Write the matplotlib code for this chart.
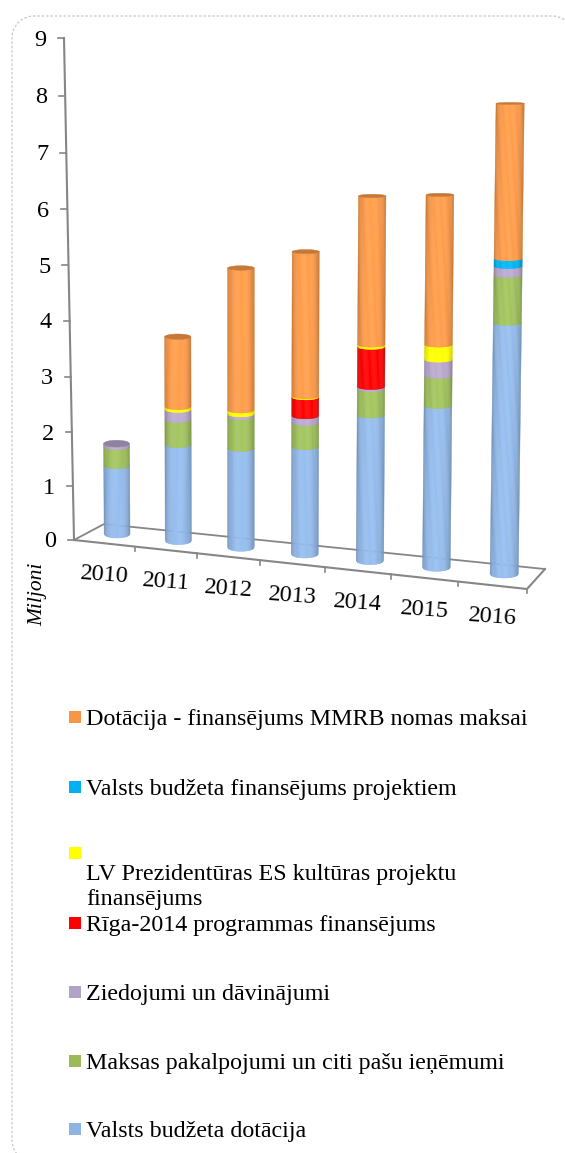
import numpy as np
import matplotlib
matplotlib.use("Agg")
import matplotlib.pyplot as plt
from matplotlib.collections import PolyCollection
from matplotlib.lines import Line2D
from matplotlib.patches import Rectangle, Ellipse
from matplotlib.transforms import Affine2D

plt.rcParams['font.family'] = ['Liberation Serif', 'DejaVu Serif']

years = ["2010", "2011", "2012", "2013", "2014", "2015", "2016"]

# values in millions, bottom to top of the stack
valsts_dotacija = [1.24, 1.74, 1.79, 1.94, 2.63, 2.92, 4.53]
maksas_pakalpojumi = [0.34, 0.45, 0.57, 0.43, 0.47, 0.54, 0.86]
ziedojumi = [0.05, 0.18, 0.05, 0.125, 0.04, 0.29, 0.16]
riga_2014 = [0, 0, 0, 0.34, 0.72, 0, 0]
prezidentura = [0, 0.05, 0.07, 0.02, 0.04, 0.27, 0]
projekti = [0, 0, 0, 0, 0, 0, 0.14]
mmrb_noma = [0, 1.26, 2.56, 2.60, 2.68, 2.70, 2.80]

series = [valsts_dotacija, maksas_pakalpojumi, ziedojumi, riga_2014,
          prezidentura, projekti, mmrb_noma]
colors = ["#8EB4E3", "#9BBB59", "#B3A2C7", "#FF0000", "#FFFF00", "#00B0F0", "#F79646"]

legend_labels = ["Dotācija - finansējums MMRB nomas maksai",
                 "Valsts budžeta finansējums projektiem",
                 "LV Prezidentūras ES kultūras projektu\nfinansējums",
                 "Rīga-2014 programmas finansējums",
                 "Ziedojumi un dāvinājumi",
                 "Maksas pakalpojumi un citi pašu ieņēmumi",
                 "Valsts budžeta dotācija"]
legend_colors = ["#F79646", "#00B0F0", "#FFFF00", "#FF0000", "#B3A2C7", "#9BBB59", "#8EB4E3"]
legend_y = [717, 787, 853, 923, 992, 1061, 1129]
legend_text_y = [719.5, 789.5, 887, 925.5, 994.5, 1063.5, 1131.5]
# the value ticks are not evenly spaced in the 3D view (pixels down)
tick_shift = [0, 2, 4, 4, 4, 4, 4, 3, 2, 0]

W, H = 565, 1153
fig = plt.figure(figsize=(W / 100, H / 100), dpi=100)
# pixel coordinates, y going down, for the box and the legend
page = Affine2D().scale(1, -1).translate(0, H)


def corner(cx, cy, start, end):
    ang = np.radians(np.linspace(start, end, 16))
    return cx + 22 * np.cos(ang), cy + 22 * np.sin(ang)


# box round the chart, its right and bottom sides fall off the picture
x_bl, y_bl = corner(34, 1140, 126, 180)
x_tl, y_tl = corner(34, 38, 180, 270)
x_tr, y_tr = corner(552, 38, 270, 323)
fig.add_artist(Line2D(np.concatenate([x_bl, x_tl, x_tr]), np.concatenate([y_bl, y_tl, y_tr]),
                      transform=page, color="#C8C8C8", lw=0.9, ls=(0, (2, 1.5))))

ax = fig.add_axes([74 / W, 1 - 540 / H, (527 - 74) / W, (540 - 38) / H])
ax.set_xlim(-0.5, 6.5)
ax.set_ylim(0, 9)
ax.axis("off")

px_x = 453 / 7
px_y = 502 / 9
# floor runs downhill to the right
skew = Affine2D.from_values(1, -7.0 / px_y, 0, 1, 0, -3.5 / px_y) + ax.transData
grey = "#868686"


def persp(x):
    # categories get wider towards the right
    return x - 8 / px_x * (1 - ((x - 3) / 3.5) ** 2)


# floor
ax.plot([-0.5, 6.5, 6.5 + 18 / px_x], [0, 0, 21.9 / px_y], color=grey, lw=1.5,
        transform=skew, clip_on=False, zorder=1)
ax.plot([-0.5, -0.5 + 30 / px_x, 6.5 + 18 / px_x], [0, 19.2 / px_y, 21.9 / px_y], color=grey, lw=1.3,
        transform=skew, clip_on=False, zorder=1)
for i in range(7):
    tick_x = persp(i + 0.5)
    ax.plot([tick_x, tick_x], [0, -4.5 / px_y], color=grey, lw=1.2, transform=skew,
            clip_on=False, zorder=1)

# value axis, leaning left going up
lean_axis = -10 / px_x / 9
ax.plot([-0.5, -0.5 + lean_axis * 9], [0, 9], color=grey, lw=1.5, clip_on=False, zorder=1)
for v in range(10):
    x_axis = -0.5 + lean_axis * v
    y_tick = v - tick_shift[v] / px_y
    ax.plot([x_axis, x_axis - 6 / px_x], [y_tick, y_tick], color=grey, lw=1.2, clip_on=False, zorder=1)
    ax.text(x_axis - 24 / px_x, y_tick - 2 / px_y, str(v), ha="center", va="center", fontsize=17.5,
            clip_on=False)

for i, year in enumerate(years):
    ax.text(persp(i), -0.58, year, ha="center", va="center", fontsize=17.5, rotation=-4,
            transform=skew, rotation_mode="anchor", clip_on=False)

ax.text(-0.5 - 36 / px_x, -54 / px_y, "Miljoni", rotation=90, ha="center", va="center",
        style="italic", fontsize=15.5, clip_on=False)

# cylinders
t_edges = np.linspace(-1, 1, 25)
t_mid = (t_edges[:-1] + t_edges[1:]) / 2
shade = 0.70 + 0.36 * (1 - t_mid ** 2) ** 0.4


def arc_px(v):
    return max(4.0 - 0.35 * v, 1.0)


def shaded(color):
    rgb = np.array(matplotlib.colors.to_rgb(color))
    return [tuple(np.clip(rgb * s, 0, 1)) for s in shade]


def band(cx, half, v0, v1, floor):
    polys = []
    lean = 0.0026 * (cx - 2)
    for a, b in zip(t_edges[:-1], t_edges[1:]):
        ya0 = v0 + arc_px(v0) * (1 - np.sqrt(1 - a ** 2)) / px_y
        yb0 = v0 + arc_px(v0) * (1 - np.sqrt(1 - b ** 2)) / px_y
        ya1 = v1 + arc_px(v1) * (1 - np.sqrt(1 - a ** 2)) / px_y
        yb1 = v1 + arc_px(v1) * (1 - np.sqrt(1 - b ** 2)) / px_y
        polys.append([(cx + a * half + lean * v0, floor + ya0), (cx + b * half + lean * v0, floor + yb0),
                      (cx + b * half + lean * v1, floor + yb1), (cx + a * half + lean * v1, floor + ya1)])
    return polys


for i in range(len(years)):
    cx = persp(i + 0.2) + 0.01 - 0.007 * i
    half = 0.2 + 0.003 * i
    floor = (2 - 6.67 * i) / px_y
    bottom = 0
    top_color = colors[0]
    for vals, color in zip(series, colors):
        if vals[i] == 0:
            continue
        top = bottom + vals[i]
        pc = PolyCollection(band(cx, half, bottom, top, floor), facecolors=shaded(color),
                            edgecolors=shaded(color), linewidths=0.3,
                            clip_on=False, zorder=3)
        ax.add_collection(pc)
        bottom = top
        top_color = color
    # darker lid on top of the stack
    lid = np.array(matplotlib.colors.to_rgb(top_color)) * 0.8
    e = arc_px(bottom) / px_y
    ax.add_patch(Ellipse((cx + 0.0026 * (cx - 2) * bottom, floor + bottom + e), 2 * half, 2 * e,
                         fc=lid, ec=lid, lw=0.3, clip_on=False, zorder=4))

# legend
for label, color, y_mark, y_text in zip(legend_labels, legend_colors, legend_y, legend_text_y):
    fig.patches.append(Rectangle((69, y_mark - 6), 12, 12, fc=color, ec="none", transform=page))
    fig.text(86.5 / W, 1 - y_text / H, label, ha="left", va="center", fontsize=17.3, linespacing=1.25)

fig.savefig("out.png", dpi=100)
